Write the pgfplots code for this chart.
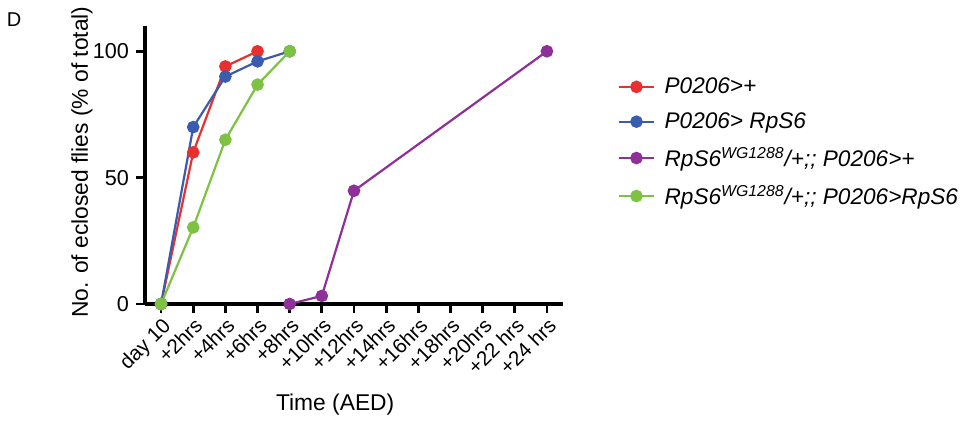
\documentclass[border=0pt]{standalone}
\usepackage{pgfplots}
\pgfplotsset{compat=1.18}
\usepackage{fontspec}
\setmainfont{Liberation Sans}
\definecolor{cred}{RGB}{232,49,47}
\definecolor{cblue}{RGB}{58,92,174}
\definecolor{cpurple}{RGB}{142,48,152}
\definecolor{cgreen}{RGB}{125,194,66}
\begin{document}
\begin{tikzpicture}
\path[use as bounding box] (0,0) rectangle (483pt,211.5pt);
\node[font=\fontsize{10}{11}\selectfont] at (7pt,201.5pt) {D};
\begin{axis}[
  at={(72.5pt,59.5pt)}, anchor=south west,
  scale only axis,
  width=209pt, height=139pt,
  xmin=-0.5, xmax=12.5,
  ymin=0, ymax=110,
  axis lines=left,
  axis line style={-, line width=1.6pt},
  tick style={line width=1.4pt, black},
  tick align=outside,
  major tick length=4.5pt,
  xtick={0,...,12},
  xticklabels={day 10,+2hrs,+4hrs,+6hrs,+8hrs,+10hrs,+12hrs,+14hrs,+16hrs,+18hrs,+20hrs,+22 hrs,+24 hrs},
  xticklabel style={rotate=45, anchor=north east, font=\fontsize{10.3}{11}\selectfont, inner sep=1pt},
  ytick={0,50,100},
  yticklabel style={font=\fontsize{10.8}{11}\selectfont},
  /pgf/number format/assume math mode=true,
  xlabel={Time (AED)},
  ylabel={No. of eclosed flies (\% of total)},
  label style={font=\fontsize{11.4}{12}\selectfont},
  xlabel style={at={(axis description cs:0.455,-0.363)}, anchor=center},
  ylabel style={at={(axis description cs:-0.151,0.51)}, anchor=center},
  clip=false,
  legend style={at={(axis description cs:1.117,0.845)}, anchor=north west,
    draw=none, fill=none, font=\fontsize{11.3}{12}\selectfont\itshape,
    row sep=4pt, legend cell align=left,
    nodes={inner xsep=5pt}},
  every axis plot/.append style={line width=1.1pt, mark=*, mark size=2.6pt},
]
\addplot[cred, mark options={fill=cred}] coordinates {(0,0) (1,60) (2,94) (3,100)};
\addplot[cblue, mark options={fill=cblue}] coordinates {(0,0) (1,70) (2,90) (3,96) (4,100)};
\addplot[cpurple, mark options={fill=cpurple}] coordinates {(4,0) (5,3.2) (6,44.8) (12,100)};
\addplot[cgreen, mark options={fill=cgreen}] coordinates {(0,0) (1,30.3) (2,65) (3,86.8) (4,100)};
\legend{P0206>+, P0206> RpS6, RpS6\textsuperscript{WG1288}/+;; P0206>+, RpS6\textsuperscript{WG1288}/+;; P0206>RpS6}
\end{axis}
\end{tikzpicture}
\end{document}
